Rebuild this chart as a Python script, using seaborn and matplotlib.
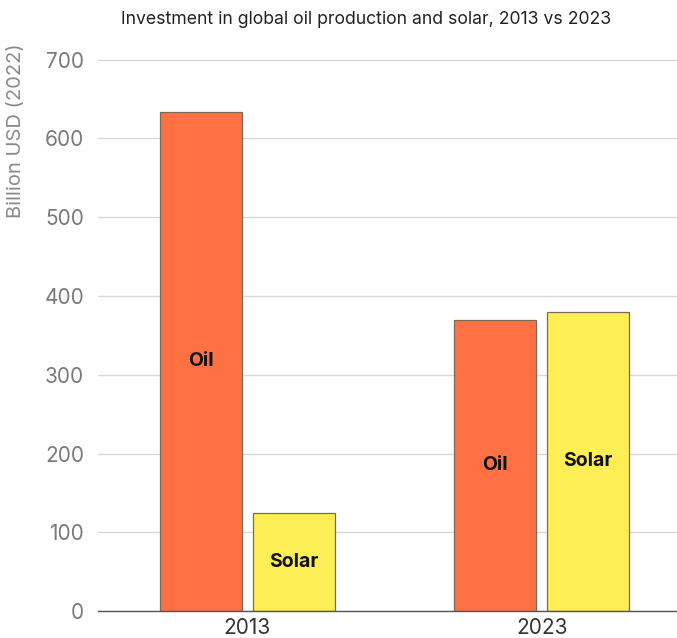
import pandas as pd
import matplotlib.pyplot as plt
import seaborn as sns

# Values (billion USD, 2022)
years = ["2013", "2023"]
sources = ["Oil", "Solar"]
oil = [634, 370]
solar = [125, 380]

df = pd.DataFrame({
    "year": years * 2,
    "source": ["Oil"] * len(years) + ["Solar"] * len(years),
    "value": oil + solar,
})

sns.set_style("white")
plt.rcParams["font.family"] = ["Inter", "DejaVu Sans"]

fig = plt.figure(figsize=(6.77, 6.38), dpi=100)
ax = fig.add_axes([0.145, 0.042, 0.855, 0.867])

palette = {"Oil": "#FF7142", "Solar": "#FDEE55"}
sns.barplot(data=df, x="year", y="value", hue="source", hue_order=sources,
            palette=palette, width=0.633, gap=0.12, edgecolor="#7a6a5a",
            linewidth=0.9, saturation=1, legend=False, ax=ax, zorder=3)

# bar labels in the middle of each bar
for container, name in zip(ax.containers, sources):
    for bar in container:
        h = bar.get_height()
        ax.text(bar.get_x() + bar.get_width() / 2, h / 2, name,
                ha="center", va="center", fontsize=14, fontweight="bold",
                color="#111111", zorder=4)

ax.set_ylim(0, 702)
ax.set_xlim(-0.507, 1.46)
ax.set_yticks(range(0, 701, 100))
ax.yaxis.grid(True, color="#d8d8d8", linewidth=1, zorder=0)
ax.tick_params(axis="y", length=0, pad=10, labelsize=15, labelcolor="#7a7a7a")
ax.tick_params(axis="x", length=0, pad=5, labelsize=15, labelcolor="#333333")
ax.set_xlabel("")
ax.set_ylabel("")
for s in ["top", "right", "left"]:
    ax.spines[s].set_visible(False)
ax.spines["bottom"].set_color("#555555")
ax.spines["bottom"].set_linewidth(1)
ax.spines["bottom"].set_zorder(5)

fig.text(0.54, 0.97, "Investment in global oil production and solar, 2013 vs 2023",
         ha="center", va="center", fontsize=12.7, color="#222222")
fig.text(0.024, 0.795, "Billion USD (2022)", rotation=90, ha="center",
         va="center", fontsize=14.5, color="#8a8a8a")

fig.savefig("out.png", dpi=100)
